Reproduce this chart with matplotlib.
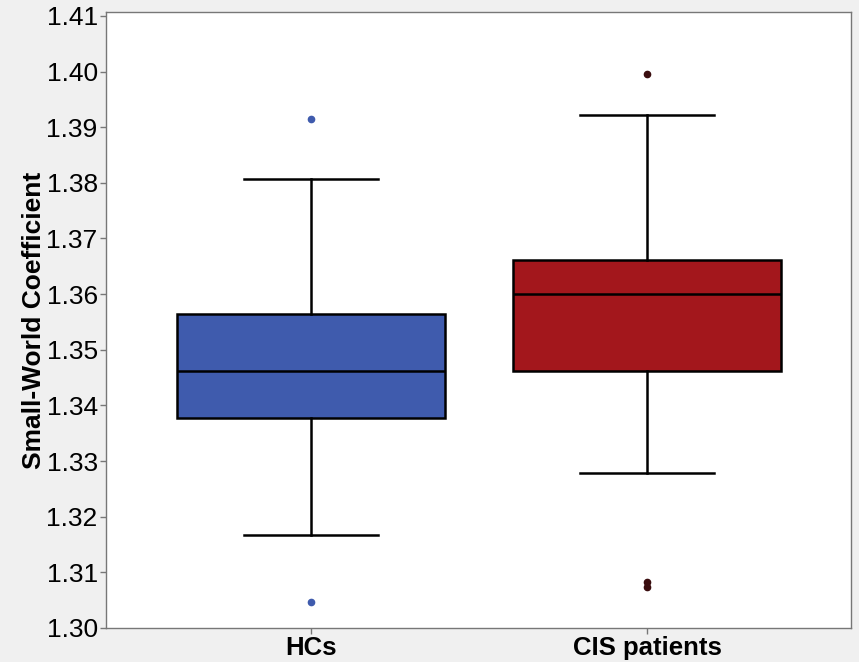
import matplotlib.pyplot as plt

plt.rcParams['font.family'] = ['Liberation Sans', 'DejaVu Sans']

groups = ["HCs", "CIS patients"]
colors = ["#3F5BAD", "#A3171C"]
flier_colors = ["#3F5BAD", "#3a0d0f"]

# box statistics
whislo = [1.3167, 1.3278]
q1 = [1.3377, 1.3461]
med = [1.3461, 1.3600]
q3 = [1.3565, 1.3662]
whishi = [1.3807, 1.3922]
fliers = [[1.3914, 1.3047], [1.3995, 1.3082, 1.3073]]

stats = []
for i in range(len(groups)):
    stats.append(dict(label=groups[i], whislo=whislo[i], q1=q1[i], med=med[i],
                      q3=q3[i], whishi=whishi[i], fliers=fliers[i]))

fig = plt.figure(figsize=(8.59, 6.62), dpi=100, facecolor="#f0f0f0")
ax = fig.add_axes([0.1234, 0.0514, 0.8673, 0.9305])

lw = 1.8
bp = ax.bxp(stats, positions=[1, 2], widths=0.8, patch_artist=True,
            boxprops=dict(linewidth=lw, edgecolor="black"),
            medianprops=dict(color="black", linewidth=lw),
            whiskerprops=dict(color="black", linewidth=lw),
            capprops=dict(color="black", linewidth=lw),
            capwidths=0.4)
for patch, c in zip(bp['boxes'], colors):
    patch.set_facecolor(c)
for fl, c in zip(bp['fliers'], flier_colors):
    fl.set(marker='o', markersize=4.5, markerfacecolor=c, markeredgecolor=c)

ax.set_xlim(0.39, 2.607)
ax.set_ylim(1.30, 1.4107)
ax.set_yticks([1.30 + 0.01 * k for k in range(12)])
ax.set_yticklabels([f"{1.30 + 0.01 * k:.2f}" for k in range(12)], fontsize=19)
ax.set_xticks([1, 2])
ax.set_xticklabels(groups, fontsize=18.5, fontweight='bold')
ax.set_ylabel("Small-World Coefficient", fontsize=19, fontweight='bold', labelpad=0)

for s in ax.spines.values():
    s.set_color("#777777")
    s.set_linewidth(1.0)
ax.tick_params(axis='both', color="#777777", length=4, width=1, pad=2)

fig.savefig("out.png", dpi=100, facecolor=fig.get_facecolor())
